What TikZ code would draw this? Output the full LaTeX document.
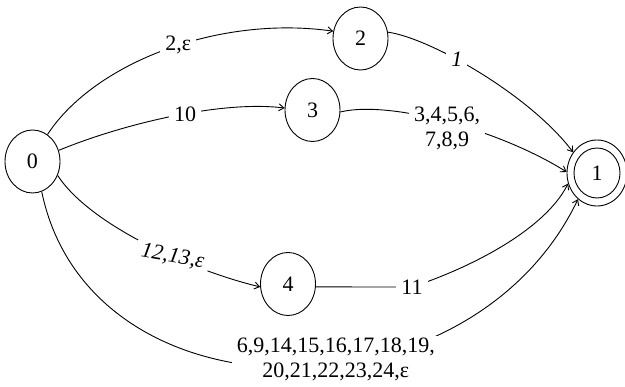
\documentclass[tikz,border=0pt]{standalone}
\usepackage{fontspec}
\setmainfont{Liberation Serif}
\usetikzlibrary{shapes.geometric,arrows.meta}
\begin{document}
\begin{tikzpicture}[x=1pt,y=-1pt,
  every node/.style={font=\fontsize{22}{25}\selectfont},
  state/.style={ellipse,draw,line width=0.9pt,minimum width=55pt,minimum height=63pt,inner sep=0pt},
  edge/.style={draw,line width=0.9pt,-{Straight Barb[length=5pt,width=7pt]}},
  lbl/.style={fill=white,inner sep=2pt,inner xsep=5pt,align=center}]
\useasboundingbox (0,0) rectangle (625,387);

\node[state] (0) at (32.5,161.5) {0};
\node[state] (2) at (360.5,38.5) {2};
\node[state] (3) at (312.5,110) {3};
\node[state] (4) at (288,284) {4};
\node[state,minimum width=60pt,minimum height=66pt] (1) at (597,173) {1};
\draw[line width=0.9pt] (1.center) ellipse (23pt and 25pt);

\draw[edge] (0.61) .. controls (95,62) and (220,15) .. (2.165)
  node[lbl,pos=0.54] {2,ε};
\draw[edge] (0.23) .. controls (120,125) and (220,100) .. (3.176)
  node[lbl,pos=0.56] {10};
\draw[edge] (2.13) .. controls (430,38) and (530,95) .. (1.139)
  node[lbl,pos=0.39] {\textit{1}};
\draw[edge] (3.-4) .. controls (390,100) and (500,130) .. (1.178)
  node[lbl,pos=0.5,yshift=-7pt] {3,4,5,6,\\7,8,9};
\draw[edge] (0.-29) .. controls (90,225) and (190,270) .. (4.186)
  node[lbl,pos=0.62,rotate=-10] {\textit{12,13,ε}};
\draw[edge] (4.-6) -- (412,287) node[lbl] {11}
  .. controls (470,268) and (545,230) .. (1.200);
\draw[edge] (0.-73) .. controls (90,425) and (470,425) .. (1.234)
  node[lbl,pos=0.57,yshift=5pt] {6,9,14,15,16,17,18,19,\\20,21,22,23,24,ε};
\end{tikzpicture}
\end{document}
